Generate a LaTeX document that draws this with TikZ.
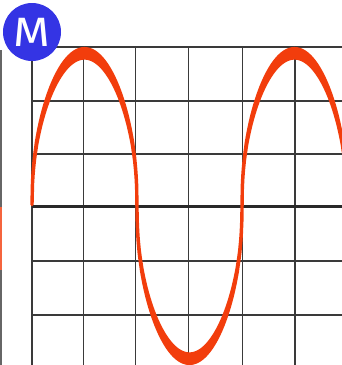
\documentclass[tikz,border=0pt]{standalone}
\usepackage{fontspec}
\newfontfamily\mfont{Fira Sans}
\definecolor{wavered}{HTML}{F23D0C}
\definecolor{badgeblue}{HTML}{3434E4}
\definecolor{gridgray}{HTML}{3A3A3A}
\begin{document}
\begin{tikzpicture}[x=1pt,y=-1pt,
  gridline/.style={draw=gridgray,line width=1.9pt},
  axisline/.style={draw=gridgray!70!black,line width=2.9pt},
  edgeline/.style={draw=gray!80!black,line width=1.6pt},
  wavefill/.style={fill=wavered,draw=wavered,line width=3.4pt,line join=round},
  badge/.style={circle,fill=badgeblue,minimum size=58pt,inner sep=0pt},
  badgetext/.style={text=white,inner sep=0pt,xscale=1.15,font=\mfont\fontsize{41}{41}\selectfont}]
\useasboundingbox (0,0) rectangle (342,365);
\clip (0,0) rectangle (342,365);
% left edge remnant
\draw[edgeline] (0.8,50) -- (0.8,365);
\draw[draw=wavered!80!white,line width=1.6pt] (0.8,207) -- (0.8,270);
% grid
\foreach \yy in {47,100.7,153.7,261.2,315} \draw[gridline] (32,\yy) -- (345,\yy);
\foreach \xx in {32,83.5,135.5,188.5,242.5,295} \draw[gridline] (\xx,47) -- (\xx,367);
\draw[axisline] (32,206.5) -- (345,206.5);
% wave
\filldraw[wavefill]
  plot[domain=32:352,samples=640] (\x,{206-157.3*((sin((\x-32)*1.7142857)>=0)?1:-1)*exp(0.45*ln(abs(sin((\x-32)*1.7142857))+0.00001))})
  -- plot[domain=352:32,samples=640] (\x,{206-148*((sin((\x-32)*1.7142857)>=0)?1:-1)*exp(0.45*ln(abs(sin((\x-32)*1.7142857))+0.00001))})
  -- cycle;
% badge
\node[badge] (mbadge) at (32,32) {};
\node[badgetext] (mletter) at (mbadge.center) {M};
\end{tikzpicture}
\end{document}
